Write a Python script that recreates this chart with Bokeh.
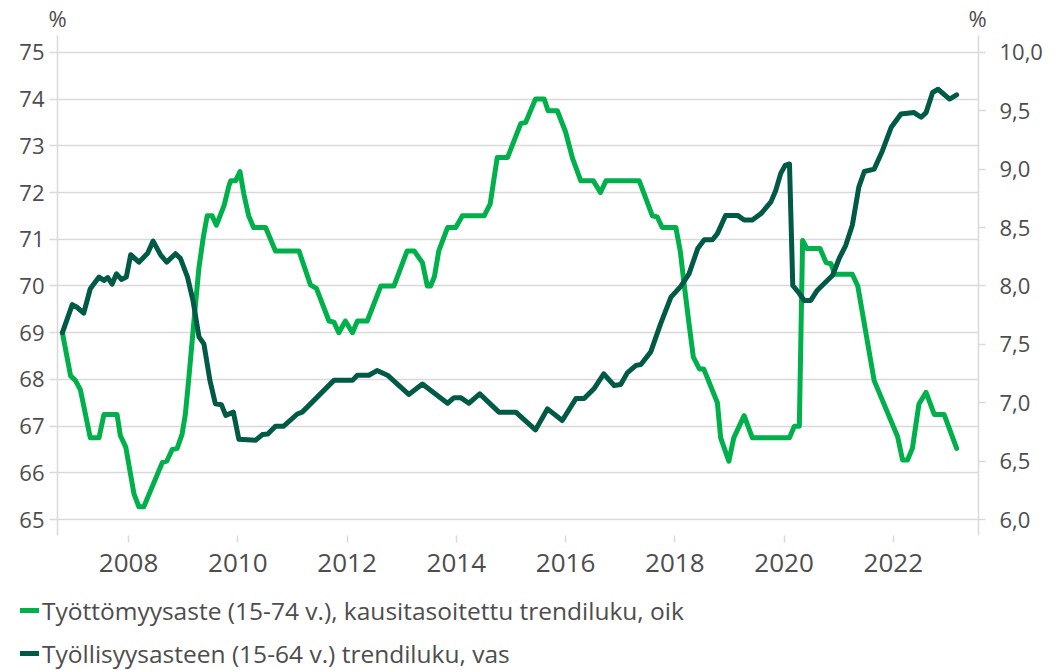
from bokeh.plotting import figure
from bokeh.layouts import column
from bokeh.models import (Range1d, LinearAxis, FixedTicker, CustomJSTickFormatter,
                          Legend, LegendItem, Label, ColumnDataSource)
from bokeh.embed import file_html
from bokeh.resources import INLINE

# ---- data (decimal years) ----
emp_x = [2006.79, 2006.97, 2007.05, 2007.18, 2007.30, 2007.46, 2007.55, 2007.62, 2007.70, 2007.78,
         2007.87, 2007.96, 2008.04, 2008.19, 2008.35, 2008.45, 2008.59, 2008.70, 2008.86, 2008.95,
         2009.08, 2009.18, 2009.29, 2009.38, 2009.49, 2009.59, 2009.70, 2009.78, 2009.92, 2010.02,
         2010.33, 2010.45, 2010.55, 2010.69, 2010.84, 2011.09, 2011.18, 2011.76, 2012.10, 2012.19,
         2012.40, 2012.55, 2012.74, 2013.13, 2013.38, 2013.84, 2013.96, 2014.08, 2014.23, 2014.43,
         2014.78, 2015.09, 2015.45, 2015.67, 2015.94, 2016.19, 2016.34, 2016.52, 2016.70, 2016.89,
         2017.01, 2017.13, 2017.29, 2017.38, 2017.56, 2017.74, 2017.93, 2018.11, 2018.26, 2018.42,
         2018.54, 2018.69, 2018.78, 2018.93, 2019.15, 2019.27, 2019.42, 2019.58, 2019.76, 2019.85,
         2019.94, 2020.02, 2020.10, 2020.16, 2020.28, 2020.37, 2020.49, 2020.61, 2020.89, 2021.01,
         2021.13, 2021.25, 2021.37, 2021.47, 2021.65, 2021.80, 2021.96, 2022.14, 2022.38, 2022.51,
         2022.60, 2022.72, 2022.82, 2023.03, 2023.16]
emp_y = [69.0, 69.6, 69.55, 69.42, 69.94, 70.19, 70.12, 70.18, 70.04, 70.26,
         70.14, 70.19, 70.67, 70.51, 70.7, 70.96, 70.66, 70.51, 70.69, 70.59,
         70.19, 69.69, 68.91, 68.76, 67.98, 67.48, 67.46, 67.23, 67.3, 66.72,
         66.70, 66.82, 66.83, 67.0, 67.0, 67.26, 67.3, 67.98, 67.98, 68.09,
         68.09, 68.19, 68.09, 67.68, 67.9, 67.49, 67.61, 67.61, 67.49, 67.69,
         67.3, 67.3, 66.92, 67.37, 67.12, 67.59, 67.59, 67.8, 68.12, 67.87,
         67.89, 68.14, 68.3, 68.32, 68.59, 69.19, 69.76, 69.99, 70.26, 70.8,
         70.99, 70.99, 71.12, 71.51, 71.51, 71.41, 71.41, 71.55, 71.8, 72.05,
         72.41, 72.58, 72.61, 70.01, 69.84, 69.69, 69.69, 69.91, 70.23, 70.59,
         70.87, 71.3, 72.12, 72.45, 72.5, 72.89, 73.39, 73.68, 73.71, 73.61,
         73.71, 74.14, 74.21, 74.0, 74.09]

unemp_x = [2006.79, 2006.94, 2007.03, 2007.12, 2007.30, 2007.46, 2007.55, 2007.79, 2007.85, 2007.95,
           2008.10, 2008.19, 2008.28, 2008.62, 2008.70, 2008.80, 2008.89, 2008.98, 2009.04, 2009.10,
           2009.20, 2009.29, 2009.37, 2009.44, 2009.53, 2009.61, 2009.75, 2009.84, 2009.87, 2009.96,
           2010.04, 2010.11, 2010.20, 2010.29, 2010.51, 2010.69, 2011.12, 2011.33, 2011.44, 2011.67,
           2011.76, 2011.85, 2011.97, 2012.10, 2012.19, 2012.37, 2012.62, 2012.86, 2013.10, 2013.23,
           2013.38, 2013.47, 2013.53, 2013.60, 2013.68, 2013.84, 2013.99, 2014.11, 2014.51, 2014.62,
           2014.75, 2014.94, 2015.18, 2015.27, 2015.45, 2015.61, 2015.68, 2015.85, 2016.00, 2016.13,
           2016.28, 2016.51, 2016.64, 2016.74, 2017.35, 2017.47, 2017.59, 2017.68, 2017.77, 2018.02,
           2018.10, 2018.17, 2018.26, 2018.34, 2018.45, 2018.53, 2018.78, 2018.84, 2018.99, 2019.08,
           2019.27, 2019.42, 2020.10, 2020.19, 2020.28, 2020.34, 2020.42, 2020.66, 2020.77, 2020.86,
           2020.93, 2021.25, 2021.35, 2021.65, 2022.08, 2022.17, 2022.26, 2022.35, 2022.47, 2022.60,
           2022.75, 2022.93, 2023.16]
unemp_y = [7.6, 7.23, 7.19, 7.11, 6.70, 6.70, 6.90, 6.90, 6.72, 6.62,
           6.22, 6.11, 6.11, 6.49, 6.50, 6.60, 6.61, 6.73, 6.90, 7.19,
           7.71, 8.16, 8.42, 8.6, 8.6, 8.52, 8.69, 8.86, 8.9, 8.9,
           8.98, 8.79, 8.6, 8.5, 8.5, 8.3, 8.3, 8.01, 7.98, 7.70,
           7.69, 7.6, 7.7, 7.6, 7.7, 7.7, 8.0, 8.0, 8.3, 8.3,
           8.2, 8.0, 8.0, 8.08, 8.3, 8.5, 8.5, 8.6, 8.6, 8.7,
           9.1, 9.1, 9.39, 9.4, 9.6, 9.6, 9.5, 9.5, 9.32, 9.09,
           8.9, 8.9, 8.8, 8.9, 8.9, 8.75, 8.6, 8.59, 8.5, 8.5,
           8.3, 8.02, 7.68, 7.39, 7.29, 7.29, 7.0, 6.7, 6.5, 6.7,
           6.89, 6.7, 6.7, 6.8, 6.8, 8.39, 8.32, 8.32, 8.2, 8.19,
           8.1, 8.1, 8.0, 7.19, 6.71, 6.51, 6.51, 6.61, 6.99, 7.09,
           6.9, 6.9, 6.61]

left_ticks = [65, 66, 67, 68, 69, 70, 71, 72, 73, 74, 75]
right_ticks = [6.0, 6.5, 7.0, 7.5, 8.0, 8.5, 9.0, 9.5, 10.0]
year_ticks = [2008, 2010, 2012, 2014, 2016, 2018, 2020, 2022]

label_unemp = "Työttömyysaste (15-74 v.), kausitasoitettu trendiluku, oik"
label_emp = "Työllisyysasteen (15-64 v.) trendiluku, vas"

LIGHT = "#00b04a"
DARK = "#005a46"
GRID = "#d9d9d9"
TEXT = "#4d4d4d"
FONT = "Open Sans"
W = 1056


def strip(height):
    f = figure(width=W, height=height, output_backend="svg", toolbar_location=None,
               x_range=Range1d(0, W), y_range=Range1d(0, height),
               min_border_left=0, min_border_right=0, min_border_top=0, min_border_bottom=0)
    f.axis.visible = False
    f.grid.visible = False
    f.outline_line_color = None
    f.border_fill_color = "white"
    return f


# ---------------- main chart ----------------
p = figure(width=W, height=554, output_backend="svg", toolbar_location=None,
           x_range=Range1d(2006.70, 2023.56), y_range=Range1d(64.66, 75.36),
           min_border_left=57, min_border_right=78, min_border_top=0, min_border_bottom=54)
p.extra_y_ranges = {"right": Range1d(5.864, 10.144)}
p.outline_line_color = None
p.background_fill_color = "white"
p.border_fill_color = "white"

p.xgrid.visible = False
p.ygrid.ticker = FixedTicker(ticks=left_ticks)
p.ygrid.grid_line_color = GRID
p.ygrid.grid_line_width = 1.5

xa = p.xaxis[0]
xa.ticker = FixedTicker(ticks=year_ticks)
xa.formatter = CustomJSTickFormatter(code="return tick.toFixed(0);")
xa.axis_line_color = None
xa.major_tick_line_color = GRID
xa.major_tick_line_width = 1.5
xa.major_tick_out = 7
xa.major_tick_in = 0
xa.minor_tick_line_color = None
xa.major_label_text_font = FONT
xa.major_label_text_font_size = "26px"
xa.major_label_text_color = TEXT
xa.major_label_standoff = 11

ya = p.yaxis[0]
ya.ticker = FixedTicker(ticks=left_ticks)
ya.formatter = CustomJSTickFormatter(code="return tick.toFixed(0);")
ya.axis_line_color = GRID
ya.axis_line_width = 1.5
ya.major_tick_line_color = GRID
ya.major_tick_line_width = 1.5
ya.major_tick_out = 8
ya.major_tick_in = 0
ya.minor_tick_line_color = None
ya.major_label_text_font = FONT
ya.major_label_text_font_size = "22px"
ya.major_label_text_color = TEXT
ya.major_label_standoff = 5

ra = LinearAxis(y_range_name="right")
ra.ticker = FixedTicker(ticks=right_ticks)
ra.formatter = CustomJSTickFormatter(code="return tick.toFixed(1).replace('.', ',');")
ra.axis_line_color = GRID
ra.axis_line_width = 1.5
ra.major_tick_line_color = GRID
ra.major_tick_line_width = 1.5
ra.major_tick_out = 7
ra.major_tick_in = 0
ra.minor_tick_line_color = None
ra.major_label_text_font = FONT
ra.major_label_text_font_size = "22px"
ra.major_label_text_color = TEXT
ra.major_label_standoff = 14
p.add_layout(ra, "right")

src_u = ColumnDataSource(data=dict(x=unemp_x, y=unemp_y))
src_e = ColumnDataSource(data=dict(x=emp_x, y=emp_y))
line_u = dict(line_color=LIGHT, line_width=5, line_join="round", line_cap="round")
line_e = dict(line_color=DARK, line_width=5, line_join="round", line_cap="round")
p.line("x", "y", source=src_u, y_range_name="right", **line_u)
p.line("x", "y", source=src_e, **line_e)

# ---------------- "%" unit labels above both axes ----------------
pt = strip(35)
for xpos in (57, 977):
    pt.add_layout(Label(x=xpos, y=18, text="%", text_align="center", text_baseline="middle",
                        text_font=FONT, text_font_size="22px", text_color=TEXT))

# ---------------- legend below ----------------
pl = strip(81)
k_u = pl.line("x", "y", source=src_u, **line_u)   # off-screen, only feeds the legend
k_e = pl.line("x", "y", source=src_e, **line_e)
legend = Legend(items=[LegendItem(label=label_unemp, renderers=[k_u]),
                       LegendItem(label=label_emp, renderers=[k_e])],
                location=(20, 0), orientation="vertical",
                border_line_color=None, background_fill_alpha=0,
                label_text_font=FONT, label_text_font_size="24.5px", label_text_color=TEXT,
                glyph_width=19, glyph_height=34, label_height=34, label_standoff=3,
                spacing=9, padding=0, margin=0)
pl.add_layout(legend, "center")

for f in (p, pt, pl):
    try:
        f.frame_align = False
    except AttributeError:
        pass

open("out.html", "w").write(file_html(column(pt, p, pl, spacing=0), INLINE))
